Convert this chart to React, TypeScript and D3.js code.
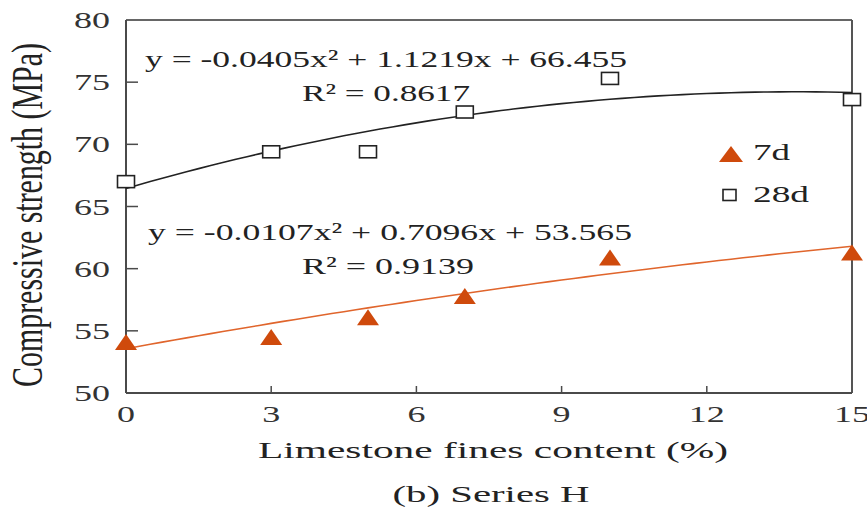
import React from "react";
import * as d3 from "d3";

const xValues = [0, 3, 5, 7, 10, 15];
const strength7d = [54.1, 54.5, 56.1, 57.8, 60.9, 61.3];
const strength28d = [67.0, 69.4, 69.4, 72.6, 75.3, 73.6];
const fit7d = [-0.0107, 0.7096, 53.565];
const fit28d = [-0.0405, 1.1219, 66.455];
const xTicks = [0, 3, 6, 9, 12, 15];
const yTicks = [50, 55, 60, 65, 70, 75, 80];
const eq28d = "y = -0.0405x\u00b2 + 1.1219x + 66.455";
const r28d = "R\u00b2 = 0.8617";
const eq7d = "y = -0.0107x\u00b2 + 0.7096x + 53.565";
const r7d = "R\u00b2 = 0.9139";
const legendLabels = ["7d", "28d"];

const W = 867;
const H = 515;
const L = 126, R = 852, T = 20, B = 393;
const FONT = "'Liberation Serif', 'Times New Roman', serif";
const ORANGE = "#cf4a0c";
const ORANGE_LINE = "#e0652c";
const AXIS = "#4a4a4a";

export default function App() {
  const x = d3.scaleLinear().domain([0, 15]).range([L, R]);
  const y = d3.scaleLinear().domain([50, 80]).range([B, T]);
  const samples = d3.range(0, 15.001, 0.25);
  const curve = (c: number[]) =>
    d3
      .line<number>()
      .x((v) => x(v))
      .y((v) => y(c[0] * v * v + c[1] * v + c[2]))(samples) || "";
  const tri = (cx: number, cy: number, w: number, h: number) =>
    `M${cx - w / 2},${cy + h / 2}L${cx + w / 2},${cy + h / 2}L${cx},${cy - h / 2}Z`;

  return (
    <svg
      width={W}
      height={H}
      style={{ position: "absolute", left: 0, top: 0, background: "#fff" }}
      fontFamily={FONT}
    >
      <rect x={0} y={0} width={W} height={H} fill="#fff" />
      {/* frame */}
      <line x1={L} x2={R} y1={T} y2={T} stroke="#666" strokeWidth={2} />
      <line x1={R} x2={R} y1={T} y2={B} stroke="#555" strokeWidth={2} />
      <line x1={L} x2={L} y1={T} y2={B} stroke={AXIS} strokeWidth={2} />
      <line x1={L} x2={R} y1={B} y2={B} stroke={AXIS} strokeWidth={2} />
      {/* y ticks */}
      {yTicks.map((t) => (
        <g key={"y" + t}>
          {t > 50 && t < 80 && (
            <line x1={L} x2={L + 12} y1={y(t)} y2={y(t)} stroke={AXIS} strokeWidth={1.5} />
          )}
          <text
            x={110}
            y={y(t) + 8}
            fontSize={23}
            textAnchor="end"
            fill="#333"
            textLength={36}
            lengthAdjust="spacingAndGlyphs"
          >
            {t}
          </text>
        </g>
      ))}
      {/* x ticks */}
      {xTicks.map((t) => (
        <g key={"x" + t}>
          {t > 0 && t < 15 && (
            <line x1={x(t)} x2={x(t)} y1={B} y2={B - 7} stroke={AXIS} strokeWidth={1.5} />
          )}
          <text
            x={x(t)}
            y={422}
            fontSize={23}
            textAnchor="middle"
            fill="#333"
            textLength={t >= 10 ? 36 : 18}
            lengthAdjust="spacingAndGlyphs"
          >
            {t}
          </text>
        </g>
      ))}
      {/* axis titles */}
      <text
        transform={`translate(42,215) scale(1.45,1) rotate(-90)`}
        fontSize={30}
        textAnchor="middle"
        fill="#222"
        textLength={344}
        lengthAdjust="spacingAndGlyphs"
      >
        Compressive strength (MPa)
      </text>
      <text
        x={493}
        y={458}
        fontSize={23}
        textAnchor="middle"
        fill="#222"
        textLength={470}
        lengthAdjust="spacingAndGlyphs"
      >
        Limestone fines content (%)
      </text>
      <text
        x={491}
        y={502}
        fontSize={23}
        textAnchor="middle"
        fill="#222"
        textLength={197}
        lengthAdjust="spacingAndGlyphs"
      >
        (b) Series H
      </text>
      {/* trend lines */}
      <path d={curve(fit28d)} fill="none" stroke="#222" strokeWidth={1.6} />
      <path d={curve(fit7d)} fill="none" stroke={ORANGE_LINE} strokeWidth={1.6} />
      {/* equations */}
      <text x={145} y={67} fontSize={24} fill="#222" textLength={482} lengthAdjust="spacingAndGlyphs">
        {eq28d}
      </text>
      <text x={302} y={101} fontSize={24} fill="#222" textLength={168} lengthAdjust="spacingAndGlyphs">
        {r28d}
      </text>
      <text x={148} y={240} fontSize={24} fill="#222" textLength={484} lengthAdjust="spacingAndGlyphs">
        {eq7d}
      </text>
      <text x={302} y={274} fontSize={24} fill="#222" textLength={172} lengthAdjust="spacingAndGlyphs">
        {r7d}
      </text>
      {/* markers */}
      {xValues.map((v, i) => (
        <path key={"t" + i} d={tri(x(v), y(strength7d[i]), 22, 16)} fill={ORANGE} />
      ))}
      {xValues.map((v, i) => (
        <rect
          key={"s" + i}
          x={x(v) - 8.5}
          y={y(strength28d[i]) - 6}
          width={17}
          height={12}
          fill="#fff"
          stroke="#222"
          strokeWidth={1.6}
        />
      ))}
      {/* legend */}
      <path d={tri(731, 154, 24, 16)} fill={ORANGE} />
      <text x={753} y={160} fontSize={23} fill="#222" textLength={37} lengthAdjust="spacingAndGlyphs">
        {legendLabels[0]}
      </text>
      <rect x={723} y={189.5} width={13} height={11} fill="#fff" stroke="#222" strokeWidth={1.6} />
      <text x={753} y={202} fontSize={23} fill="#222" textLength={56} lengthAdjust="spacingAndGlyphs">
        {legendLabels[1]}
      </text>
    </svg>
  );
}
